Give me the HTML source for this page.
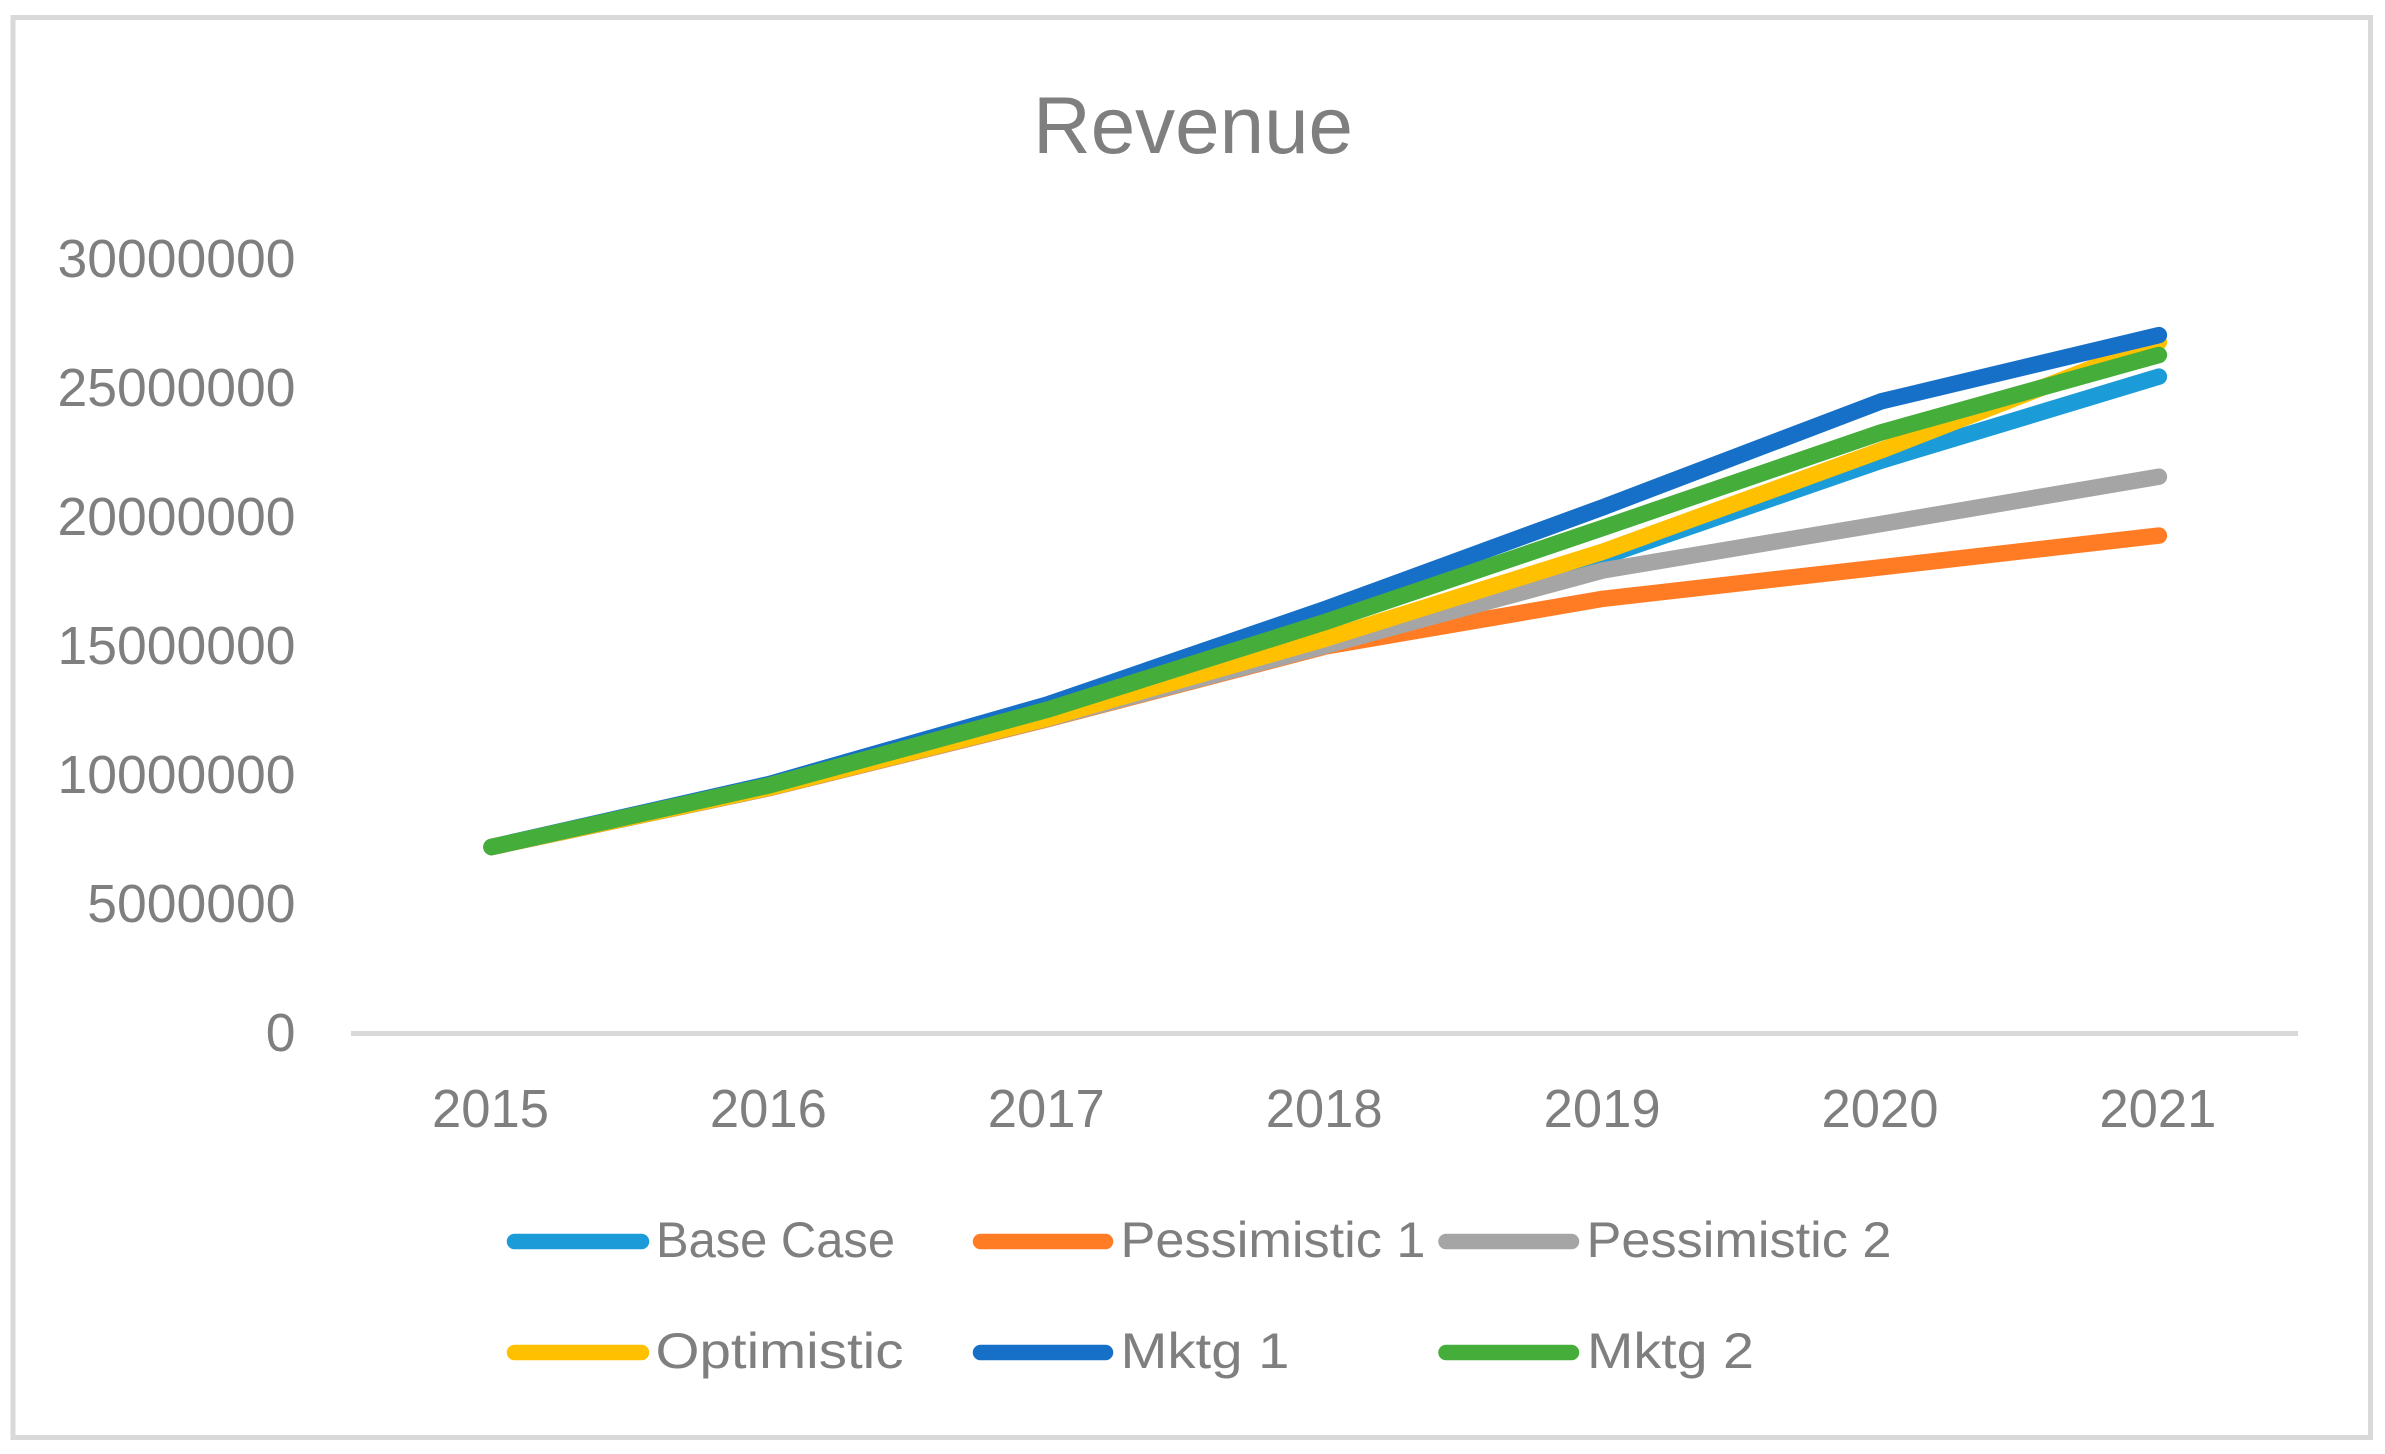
<!DOCTYPE html>
<html lang="en">
<head>
<meta charset="utf-8">
<title>Revenue</title>
<style>
  html, body { margin: 0; padding: 0; background: #ffffff; }
  svg { display: block; }
  text { font-family: "Liberation Sans", sans-serif; fill: #7f7f7f; }
</style>
</head>
<body>
<svg id="chart" xmlns="http://www.w3.org/2000/svg" width="2385" height="1454" viewBox="0 0 2385 1454">
  <rect x="0" y="0" width="2385" height="1454" fill="#ffffff"/>
  <rect x="13" y="17.5" width="2357.5" height="1420" fill="#ffffff" stroke="#d9d9d9" stroke-width="5"/>
  <text x="1193" y="153" font-size="81" text-anchor="middle" textLength="320" lengthAdjust="spacingAndGlyphs">Revenue</text>
  <g id="y-axis"></g>
  <g id="x-axis"></g>
  <line x1="351" x2="2298" y1="1033.5" y2="1033.5" stroke="#d9d9d9" stroke-width="5"/>
  <g id="series"></g>

  <g>
    <g>
      <line x1="514.5" x2="641.5" y1="1241.5" y2="1241.5" stroke="#1b9cd9" stroke-width="15.5" stroke-linecap="round"/>
      <text x="656" y="1257" font-size="50" textLength="239" lengthAdjust="spacingAndGlyphs">Base Case</text>
    </g>
    <g>
      <line x1="980.5" x2="1105.5" y1="1241.5" y2="1241.5" stroke="#ff7c24" stroke-width="15.5" stroke-linecap="round"/>
      <text x="1120.5" y="1257" font-size="50" textLength="305" lengthAdjust="spacingAndGlyphs">Pessimistic 1</text>
    </g>
    <g>
      <line x1="1446" x2="1571.5" y1="1241.5" y2="1241.5" stroke="#a5a5a5" stroke-width="15.5" stroke-linecap="round"/>
      <text x="1586.5" y="1257" font-size="50" textLength="305" lengthAdjust="spacingAndGlyphs">Pessimistic 2</text>
    </g>
    <g>
      <line x1="514.5" x2="641.5" y1="1352.5" y2="1352.5" stroke="#ffc000" stroke-width="15.5" stroke-linecap="round"/>
      <text x="655.5" y="1368" font-size="50" textLength="248" lengthAdjust="spacingAndGlyphs">Optimistic</text>
    </g>
    <g>
      <line x1="980.5" x2="1105.5" y1="1352.5" y2="1352.5" stroke="#1770c8" stroke-width="15.5" stroke-linecap="round"/>
      <text x="1120.5" y="1368" font-size="50" textLength="169" lengthAdjust="spacingAndGlyphs">Mktg 1</text>
    </g>
    <g>
      <line x1="1446" x2="1571.5" y1="1352.5" y2="1352.5" stroke="#45ae3a" stroke-width="15.5" stroke-linecap="round"/>
      <text x="1587" y="1368" font-size="50" textLength="167" lengthAdjust="spacingAndGlyphs">Mktg 2</text>
    </g>
  </g>
</svg>

<script>
const years = ["2015", "2016", "2017", "2018", "2019", "2020", "2021"];
const yTicks = [0, 5000000, 10000000, 15000000, 20000000, 25000000, 30000000];

const baseCase = [7230000, 9520000, 12200000, 15050000, 18480000, 22200000, 25460000];
const pessimistic1 = [7230000, 9510000, 12180000, 15000000, 16850000, 18070000, 19300000];
const pessimistic2 = [7230000, 9520000, 12200000, 15030000, 17950000, 19750000, 21580000];
const optimistic = [7230000, 9530000, 12220000, 15300000, 18680000, 22600000, 26800000];
const mktg1 = [7230000, 9670000, 12750000, 16450000, 20400000, 24500000, 27070000];
const mktg2 = [7230000, 9620000, 12550000, 15950000, 19600000, 23300000, 26300000];

const NS = "http://www.w3.org/2000/svg";

function xPos(i) { return 491.5 + i * 277.9; }
function yPos(v) { return 1033.5 - (v / 30000000) * 774; }

const yAxisGroup = document.getElementById("y-axis");
yTicks.forEach(function (tick) {
  const label = document.createElementNS(NS, "text");
  label.setAttribute("x", 295.5);
  label.setAttribute("y", yPos(tick) + 17.5);
  label.setAttribute("font-size", 53.5);
  label.setAttribute("text-anchor", "end");
  
  
  label.textContent = String(tick);
  yAxisGroup.appendChild(label);
});

const xAxisGroup = document.getElementById("x-axis");
years.forEach(function (year, i) {
  const label = document.createElementNS(NS, "text");
  label.setAttribute("x", xPos(i) - 1);
  label.setAttribute("y", 1127);
  label.setAttribute("font-size", 54);
  label.setAttribute("text-anchor", "middle");
  label.setAttribute("textLength", 117);
  label.setAttribute("lengthAdjust", "spacingAndGlyphs");
  
  
  label.textContent = year;
  xAxisGroup.appendChild(label);
});

const seriesGroup = document.getElementById("series");
function drawSeries(values, color, seriesName) {
  const line = document.createElementNS(NS, "polyline");
  const points = values.map(function (v, i) {
    return xPos(i).toFixed(1) + "," + yPos(v).toFixed(1);
  }).join(" ");
  line.setAttribute("points", points);
  line.setAttribute("fill", "none");
  line.setAttribute("stroke", color);
  line.setAttribute("stroke-width", 16.5);
  line.setAttribute("stroke-linecap", "round");
  line.setAttribute("stroke-linejoin", "round");
  
  
  seriesGroup.appendChild(line);
}

drawSeries(baseCase, "#1b9cd9", "series-base-case");
drawSeries(pessimistic1, "#ff7c24", "series-pessimistic-1");
drawSeries(pessimistic2, "#a5a5a5", "series-pessimistic-2");
drawSeries(optimistic, "#ffc000", "series-optimistic");
drawSeries(mktg1, "#1770c8", "series-mktg-1");
drawSeries(mktg2, "#45ae3a", "series-mktg-2");
</script>
</body>
</html>
